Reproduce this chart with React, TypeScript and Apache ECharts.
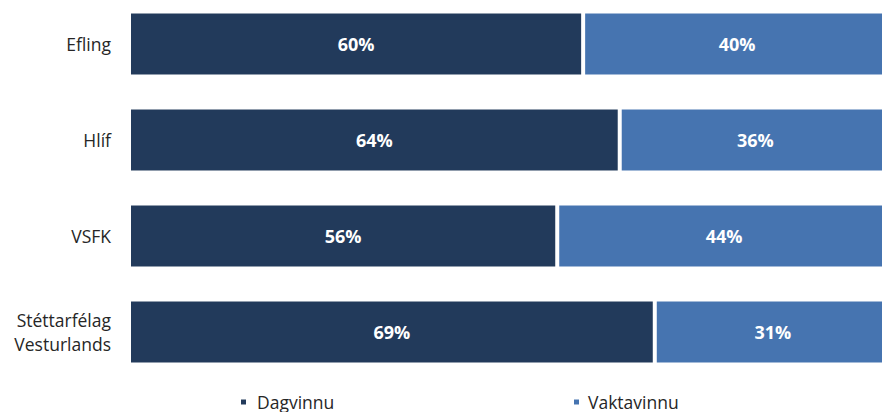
import React, { useEffect, useRef } from "react";
import * as echarts from "echarts";

const categories = ["Efling", "Hlíf", "VSFK", "Stéttarfélag\nVesturlands"];
const dagvinnu = [59.6, 64.4, 56.2, 69.0];
const vaktavinnu = [40.4, 35.6, 43.8, 31.0];
const seriesNames = ["Dagvinnu", "Vaktavinnu"];
const colors = ["#223a5b", "#4674b0"];

const FONT = "'Open Sans', 'Noto Sans', sans-serif";

export default function App() {
  const ref = useRef<HTMLDivElement>(null);
  useEffect(() => {
    if (!ref.current) return;
    const chart = echarts.init(ref.current, undefined, { renderer: "svg" });
    const label = {
      show: true,
      position: "inside",
      color: "#ffffff",
      fontWeight: "bold",
      fontSize: 18,
      fontFamily: FONT,
      formatter: (p: any) => Math.round(p.value) + "%",
    };
    const legendText = {
      fontSize: 17.5,
      fontFamily: FONT,
      color: "#262626",
      lineHeight: 20,
    };
    chart.setOption({
      animation: false,
      backgroundColor: "#ffffff",
      grid: { left: 129, right: 0, top: 0, bottom: 32, containLabel: false },
      xAxis: {
        type: "value",
        min: 0,
        max: 100,
        show: false,
      },
      yAxis: {
        type: "category",
        data: categories,
        inverse: true,
        axisLine: { show: false },
        axisTick: { show: false },
        axisLabel: {
          margin: 18,
          color: "#262626",
          fontSize: 17.5,
          fontFamily: FONT,
          lineHeight: 24,
        },
      },
      legend: [
        {
          data: [seriesNames[0]],
          left: 239,
          top: 396,
          padding: 0,
          icon: "rect",
          itemWidth: 7,
          itemHeight: 7,
          textStyle: { ...legendText, padding: [0, 0, 0, 5] },
        },
        {
          data: [seriesNames[1]],
          left: 572,
          top: 396,
          padding: 0,
          icon: "rect",
          itemWidth: 7,
          itemHeight: 7,
          textStyle: { ...legendText, padding: [0, 0, 0, 3] },
        },
      ],
      series: [
        {
          name: seriesNames[0],
          type: "bar",
          stack: "total",
          data: dagvinnu,
          barWidth: 65,
          itemStyle: { color: colors[0], borderColor: "#ffffff", borderWidth: 2 },
          label,
        },
        {
          name: seriesNames[1],
          type: "bar",
          stack: "total",
          data: vaktavinnu,
          barWidth: 65,
          itemStyle: { color: colors[1], borderColor: "#ffffff", borderWidth: 2 },
          label,
        },
      ],
    });
    return () => chart.dispose();
  }, []);
  return (
    <div
      style={{
        position: "fixed",
        left: 0,
        top: 0,
        width: 882,
        height: 412,
        overflow: "hidden",
        background: "#fff",
      }}
    >
      <div
        ref={ref}
        style={{ position: "absolute", left: 0, top: -4, width: 891, height: 416 }}
      />
    </div>
  );
}
